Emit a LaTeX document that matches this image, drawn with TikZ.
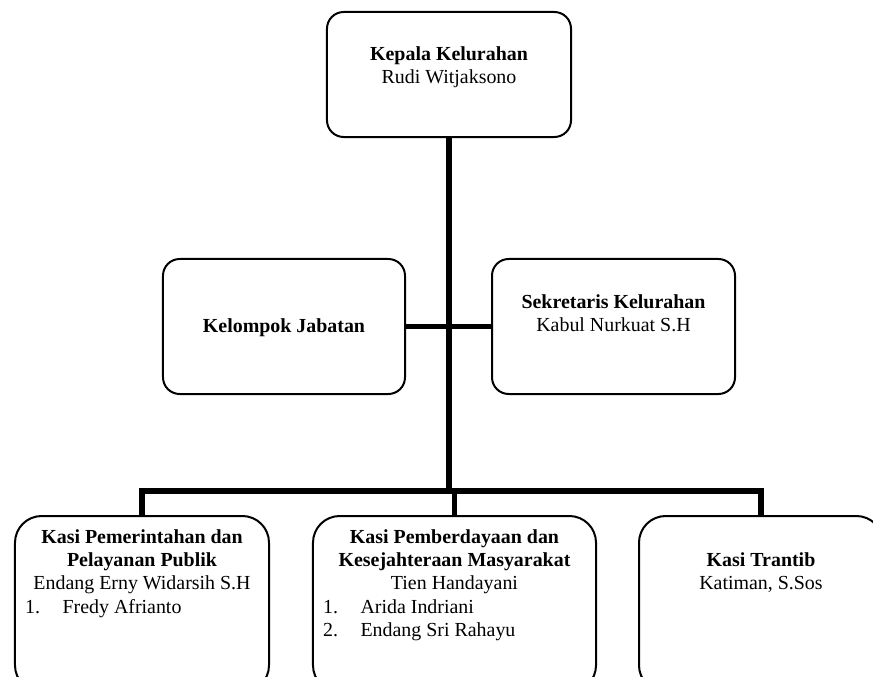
\documentclass[tikz,border=0pt]{standalone}
\usepackage{fontspec}
\setmainfont{Liberation Serif}
\usepackage{tikz}
\usetikzlibrary{positioning}
\tikzset{
  box/.style={draw, rounded corners=0.5cm, line width=0.06cm, inner sep=0pt},
  lowbox/.style={box, rounded corners=0.8cm, minimum height=5.28cm},
  txt/.style={align=center, inner sep=0pt, anchor=north, font=\fontsize{17}{19.9}\selectfont},
  lst/.style={txt, align=left, anchor=north west},
  conn/.style={line width=0.16cm},
}
\newcommand{\itm}[1]{\makebox[1.12cm][l]{#1}}

\begin{document}
\begin{tikzpicture}[x=0.03cm, y=-0.03cm]
  \useasboundingbox (0,0) rectangle (873,677);
  \node[box, minimum width=7.32cm, minimum height=3.75cm] (kepala) at (449,74.5) {};
  \node[box, minimum width=7.26cm, minimum height=4.05cm] (kelompok) at (284,326.5) {};
  \node[box, minimum width=7.29cm, minimum height=4.05cm] (sekretaris) at (613.5,326.5) {};
  \node[lowbox, minimum width=7.62cm] (pemerintahan) at (142,604) {};
  \node[lowbox, minimum width=8.49cm] (pemberdayaan) at (454.5,604) {};
  \node[lowbox, minimum width=7.32cm] (trantib) at (761,604) {};
  \node[txt] (kepalatxt) at (449,46) {\textbf{Kepala Kelurahan}\\Rudi Witjaksono};
  \node[txt] (kelompoktxt) at (284,318) {\textbf{Kelompok Jabatan}};
  \node[txt] (sekretaristxt) at (613.5,294) {\textbf{Sekretaris Kelurahan}\\Kabul Nurkuat S.H};
  \node[txt] (pemerintahantxt) at (142,529) {\textbf{Kasi Pemerintahan dan}\\\textbf{Pelayanan Publik}\\Endang Erny Widarsih S.H};
  \node[lst] (pemerintahanlst) at (25,599) {\itm{1.}Fredy Afrianto};
  \node[txt] (pemberdayaantxt) at (454.5,529) {\textbf{Kasi Pemberdayaan dan}\\\textbf{Kesejahteraan Masyarakat}\\Tien Handayani};
  \node[lst] (pemberdayaanlst) at (323,599) {\itm{1.}Arida Indriani\\\itm{2.}Endang Sri Rahayu};
  \node[txt] (trantibtxt) at (761,552) {\textbf{Kasi Trantib}\\Katiman, S.Sos};
  \coordinate (bus) at (449,491);
  \draw[conn] (kepala.south) -- (bus);
  \draw[conn] (kelompok.east) -- (sekretaris.west);
  \draw[conn] (pemerintahan.north) |- (bus) -| (trantib.north);
  \draw[conn] (pemberdayaan.north) -- (pemberdayaan.north |- bus);
\end{tikzpicture}
\end{document}
